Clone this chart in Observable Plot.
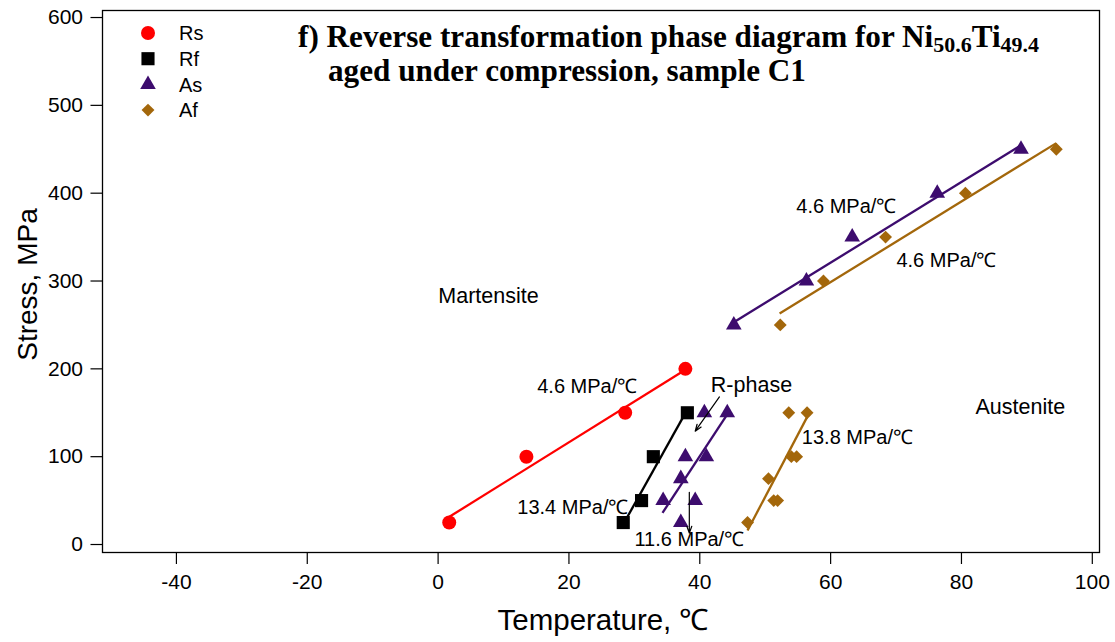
<!DOCTYPE html>
<html><head><meta charset="utf-8">
<script src="https://cdn.jsdelivr.net/npm/d3@7"></script>
<script src="https://cdn.jsdelivr.net/npm/@observablehq/plot@0.6"></script>
<style>body{margin:0;background:#fff} #chart{width:1115px;height:642px}</style>
</head><body><div id="chart"></div>
<script>
// ---- data ----
const seriesNames = ["Rs", "Rf", "As", "Af"];
const seriesColors = ["#ff0000", "#000000", "#3d0c6e", "#a3670b"];
const seriesSymbols = ["circle", "square", "triangle", "diamond2"];

const rsTemp = [1.7, 13.5, 28.6, 37.8];
const rsStress = [25, 100, 150, 200];
const rfTemp = [28.3, 31.1, 32.9, 38.1];
const rfStress = [25, 50, 100, 150];
const asTemp = [37.1, 34.4, 39.3, 37.1, 37.8, 41.0, 40.7, 44.2, 45.2, 56.3, 63.3, 76.3, 89.1];
const asStress = [25, 50, 50, 75, 100, 100, 150, 150, 250, 300, 350, 400, 450];
const afTemp = [47.3, 51.3, 51.9, 50.5, 54.0, 54.8, 53.6, 56.4, 52.3, 58.9, 68.4, 80.6, 94.5];
const afStress = [25, 50, 50, 75, 100, 100, 150, 150, 250, 300, 350, 400, 450];

// fitted lines (end points)
const fitSeries = ["Rs", "Rf", "As", "As", "Af", "Af"];
const fitT1 = [1.6, 28.9, 34.3, 45.2, 47.3, 52.2];
const fitS1 = [31, 31, 36, 253, 16, 263];
const fitT2 = [37.8, 37.6, 44.1, 89.0, 56.4, 94.5];
const fitS2 = [199, 147, 147, 454, 145, 457];

// annotations
const annText = ["Martensite", "Austenite", "4.6 MPa/℃", "R-phase", "13.4 MPa/℃", "11.6 MPa/℃", "13.8 MPa/℃", "4.6 MPa/℃", "4.6 MPa/℃"];
const annT = [7.7, 89, 22.8, 47.9, 20.6, 38.4, 64.1, 62.4, 77.7];
const annS = [283, 156, 180, 182, 42, 6, 122, 385, 323];
const annSize = [21.5, 21.5, 20, 21.5, 20, 20, 20, 20, 20];

// arrows
const arrT1 = [43.0, 38.4];
const arrS1 = [168, 59.5];
const arrT2 = [39.3, 38.4];
const arrS2 = [129, 13];

const xTicks = [-40, -20, 0, 20, 40, 60, 80, 100];
const yTicks = [0, 100, 200, 300, 400, 500, 600];
const xLabel = "Temperature, ℃";
const yLabel = "Stress, MPa";

// ---- build tables ----
const temps = [rsTemp, rfTemp, asTemp, afTemp];
const stresses = [rsStress, rfStress, asStress, afStress];
const points = seriesNames.flatMap((s, k) => temps[k].map((t, i) => ({series: s, t, s: stresses[k][i]})));
const fits = fitSeries.map((s, i) => ({series: s, t1: fitT1[i], s1: fitS1[i], t2: fitT2[i], s2: fitS2[i]}));
const anns = annText.map((text, i) => ({text, t: annT[i], s: annS[i], size: annSize[i]}));
const arrows = arrT1.map((t, i) => ({t1: t, s1: arrS1[i], t2: arrT2[i], s2: arrS2[i]}));
const color = Object.fromEntries(seriesNames.map((s, i) => [s, seriesColors[i]]));
const sizes = {Rs: 7.0, Rf: 7.4, As: 5.8, Af: 5.8};

const dotMarks = seriesNames.map((s, k) => Plot.dot(points.filter(d => d.series === s), {
  x: "t", y: "s", symbol: () => seriesSymbols[k], fill: seriesColors[k], stroke: "none", r: sizes[s]
}));

const chart = Plot.plot({
  width: 1115, height: 642,
  marginLeft: 102, marginRight: 16, marginTop: 10, marginBottom: 90,
  style: {fontFamily: "'Liberation Sans', Arial, sans-serif", fontSize: "21px", background: "white", color: "black", overflow: "visible"},
  x: {domain: [-51.3, 101.1]},
  y: {domain: [-9.1, 608]},
  symbol: {type: "identity"},
  marks: [
    Plot.axisX({ticks: xTicks, tickSize: 12, tickPadding: 10, label: null, fontSize: 21, strokeWidth: 1.2, tickFormat: d => String(d)}),
    Plot.axisY({ticks: yTicks, tickSize: 11.5, tickPadding: 8, label: null, fontSize: 21, strokeWidth: 1.2, tickFormat: d => String(d)}),
    Plot.frame({stroke: "black", strokeWidth: 1.3}),
    ...fits.map(f => Plot.link([f], {x1: "t1", y1: "s1", x2: "t2", y2: "s2", stroke: color[f.series], strokeWidth: 2.3})),
    ...dotMarks,
    Plot.arrow(arrows, {x1: "t1", y1: "s1", x2: "t2", y2: "s2", stroke: "black", strokeWidth: 1.2, headLength: 9, headAngle: 40}),
    ...anns.map(a => Plot.text([a], {x: "t", y: "s", text: "text", fontSize: a.size, fill: "black", textAnchor: "middle", lineAnchor: "middle"})),
    Plot.text([yLabel], {frameAnchor: "left", dx: -74, dy: 3, rotate: -90, fontSize: 28, textAnchor: "middle", lineAnchor: "middle"}),
    Plot.text([xLabel], {frameAnchor: "bottom", dx: 2, dy: 68, fontSize: 29.5, textAnchor: "middle", lineAnchor: "middle"})
  ]
});
document.getElementById("chart").appendChild(chart);

// ---- legend & title (overlay in the SVG) ----
const svg = d3.select(chart);
const symGen = {circle: d3.symbolCircle, square: d3.symbolSquare, triangle: d3.symbolTriangle, diamond2: d3.symbolDiamond2};
const lg = svg.append("g").attr("text-anchor", "start");
seriesNames.forEach((s, i) => {
  const y = 33 + i * 25.7;
  lg.append("path").attr("transform", `translate(148,${y})`)
    .attr("d", d3.symbol(symGen[seriesSymbols[i]], Math.PI * sizes[s] * sizes[s])())
    .attr("fill", seriesColors[i]);
  lg.append("text").attr("x", 179).attr("y", y).attr("dy", "0.36em")
    .attr("font-size", 20).attr("fill", "black").text(s);
});

const titleG = svg.append("g").attr("text-anchor", "start")
  .attr("font-family", "'Liberation Serif', 'Times New Roman', serif")
  .attr("font-weight", "bold").attr("font-size", 31.2).attr("fill", "black");
const t1 = titleG.append("text").attr("x", 298).attr("y", 47);
t1.append("tspan").text("f) Reverse transformation phase diagram for Ni");
t1.append("tspan").attr("font-size", 22).attr("dy", 5).text("50.6");
t1.append("tspan").attr("dy", -5).text("Ti");
t1.append("tspan").attr("font-size", 22).attr("dy", 5).text("49.4");
titleG.append("text").attr("x", 328).attr("y", 81).text("aged under compression, sample C1");
</script>
</body></html>
